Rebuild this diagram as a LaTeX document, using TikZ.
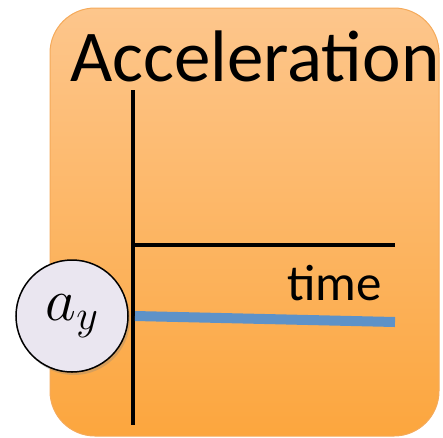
\RequirePackage{fix-cm}
\documentclass[tikz,border=0pt]{standalone}
\usepackage{fontspec}
\setmainfont{Carlito}
\usetikzlibrary{shadows}
\definecolor{boxtop}{RGB}{253,198,140}
\definecolor{boxbot}{RGB}{252,166,62}
\definecolor{boxedge}{RGB}{245,170,90}
\definecolor{bluel}{RGB}{94,146,200}
\definecolor{circfill}{RGB}{234,230,240}
\tikzset{
  panel/.style={rounded corners=45pt, top color=boxtop, bottom color=boxbot, draw=boxedge, line width=1pt},
  axis/.style={line width=4pt, draw=black},
  sig/.style={line width=10pt, draw=bluel},
  lbl/.style={circle, draw=black, line width=1.5pt, fill=circfill, minimum size=112pt, inner sep=0pt, drop shadow={opacity=0.3, shadow xshift=2pt, shadow yshift=-3pt}},
}
\begin{document}
\begin{tikzpicture}[x=1pt,y=-1pt]
\useasboundingbox (0,0) rectangle (443,437);
\begin{scope}
\clip (0,0) rectangle (443,437);
\draw[panel] (50,8) rectangle (439,436);
\node[anchor=base west, inner sep=0pt, font=\fontsize{73}{78}\selectfont] (title) at (70,81) {Acceleration};
\coordinate (vtop) at (133,90);
\coordinate (vbot) at (133,425);
\coordinate (hleft) at (133,245);
\coordinate (hright) at (395,245);
\coordinate (bleft) at (135,316);
\coordinate (bright) at (395,322);
\draw[axis] (vtop) -- (vbot);
\draw[axis] (hleft) -- (hright);
\draw[sig] (bleft) -- (bright);
\node[anchor=base west, inner sep=0pt, font=\fontsize{51}{55}\selectfont] (time) at (287,300) {time};
\node[lbl] (ay) at (72,316) {\fontsize{60}{66}\selectfont$a_y$};
\end{scope}
\end{tikzpicture}
\end{document}
